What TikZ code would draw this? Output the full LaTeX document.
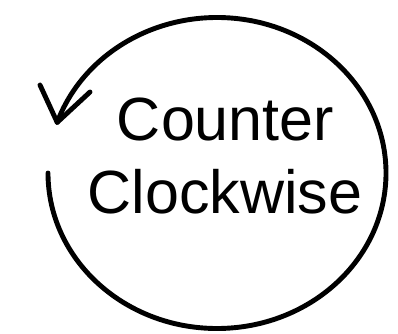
\documentclass[tikz,border=0pt]{standalone}
\usepackage{fontspec}
\setmainfont{Liberation Sans}
\begin{document}
\begin{tikzpicture}[x=1pt,y=1pt,
  ring/.style={line width=4.9pt, line cap=round, line join=round, draw=black},
  label/.style={inner sep=0pt, anchor=base, font=\fontsize{61}{72}\selectfont}]
\useasboundingbox (0,0) rectangle (398,333);
\coordinate (c) at (217,160);
\draw[ring] (c) ++(180:169pt and 155.5pt)
  arc[start angle=180, end angle=521, x radius=169pt, y radius=155.5pt]
  coordinate (tip);
\coordinate (barbL) at (40,248);
\coordinate (barbR) at (90,241);
\draw[ring] (barbL) -- (tip) -- (barbR);
\node[label] (l1) at (225.5,193) {Counter};
\node[label] (l2) at (225,120) {Clockwise};
\end{tikzpicture}
\end{document}
